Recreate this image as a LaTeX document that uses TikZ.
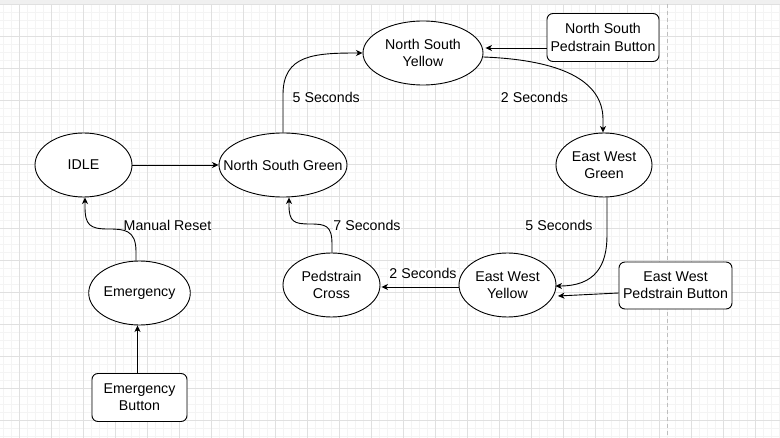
\documentclass[tikz,border=0pt]{standalone}
\usepackage{fontspec}
\setmainfont{Liberation Sans}
\usetikzlibrary{shapes.geometric,arrows.meta,calc}
\definecolor{minorgrid}{RGB}{244,244,244}
\definecolor{majorgrid}{RGB}{224,224,224}
\definecolor{pageline}{RGB}{190,190,190}
\definecolor{topband}{RGB}{240,240,240}
\tikzset{
  state/.style={draw, ellipse, line width=0.9pt, inner sep=0pt, align=center, fill=white},
  btn/.style={draw, rectangle, rounded corners=6pt, line width=0.9pt, inner sep=0pt, align=center, fill=white},
  conn/.style={line width=0.9pt, -{Stealth[length=6.5pt,width=6pt,inset=1.8pt]}},
  lbl/.style={fill=white, inner sep=0pt},
}
\begin{document}
\begin{tikzpicture}[x=1pt,y=-1pt,font=\fontsize{14.2}{17.3}\selectfont]
\useasboundingbox (0,0) rectangle (780,438);
\fill[white] (0,0) rectangle (780,438);
% grid
\foreach \i in {0,...,97} {\draw[minorgrid,line width=0.8pt] ({3.5+8*\i},4) -- ({3.5+8*\i},438);}
\foreach \j in {0,...,54} {\draw[minorgrid,line width=0.8pt] (0,{4.7+8*\j}) -- (780,{4.7+8*\j});}
\foreach \i in {0,...,24} {\draw[majorgrid,line width=0.8pt] ({19.5+32*\i},4) -- ({19.5+32*\i},438);}
\foreach \j in {0,...,13} {\draw[majorgrid,line width=0.8pt] (0,{4.7+32*\j}) -- (780,{4.7+32*\j});}
\fill[topband] (0,0) rectangle (780,4);
\draw[pageline,line width=0.8pt,dash pattern=on 4pt off 3pt] (667.3,4) -- (667.3,438);
% nodes
\node[state, minimum width=97pt, minimum height=64pt] (idle) at (83.5,165) {IDLE};
\node[state, minimum width=128pt, minimum height=64pt, inner xsep=-25pt] (nsg) at (283,165) {North South Green};
\node[state, minimum width=120pt, minimum height=64pt] (nsy) at (423,53) {North South\\Yellow};
\node[btn, minimum width=112pt, minimum height=48pt] (nspb) at (603,37.5) {North South\\Pedstrain Button};
\node[state, minimum width=96pt, minimum height=64pt] (ewg) at (604,165) {East West\\Green};
\node[state, minimum width=97pt, minimum height=64pt] (ewy) at (507.5,285) {East West\\Yellow};
\node[btn, minimum width=113pt, minimum height=47pt] (ewpb) at (675.5,285.5) {East West\\Pedstrain Button};
\node[state, minimum width=97pt, minimum height=64pt] (pc) at (331.5,285) {Pedstrain\\Cross};
\node[state, minimum width=97pt, minimum height=64pt] (em) at (139.5,293) {Emergency};
\node[btn, minimum width=95pt, minimum height=48pt] (emb) at (139.5,397.5) {Emergency\\Button};
% labels
\node[lbl, anchor=west] (l1) at (292.5,97) {5 Seconds};
\node[lbl] (l2) at (534.5,97) {2 Seconds};
\node[lbl] (l3) at (559,225) {5 Seconds};
\node[lbl] (l4) at (367,225) {7 Seconds};
\node[lbl] (l5) at (167.5,225) {Manual Reset};
\node[lbl] (l6) at (423,273) {2 Seconds};
% connectors
\draw[conn] (idle.east) -- (nsg.west);
\draw[conn] (nsg.north) -- ++(0,-38) .. controls ++(0,-40) and ($(nsy.west)+(-48,0)$) .. (nsy.west);
\draw[conn] ($(nsy.east)+(0,4)$) .. controls (560,60) and (603,80) .. ($(ewg.north)+(-1,-13)$) -- ($(ewg.north)+(-1,0)$);
\draw[conn] ($(nspb.west)+(0,10.5)$) -- ($(nsy.east)+(2,-5)$);
\draw[conn] ($(ewg.south)+(3,0)$) -- ++(0,38) .. controls ++(0,30) and ($(ewy.east)+(39,1)$) .. ($(ewy.east)+(-1,1)$);
\draw[conn] ($(ewpb.west)+(0,7.5)$) -- ($(ewy.east)+(1.5,11)$);
\draw[conn] ($(ewy.west)+(0,2)$) -- ($(pc.east)+(1,2)$);
\draw[conn] ($(pc.north)+(0.5,0)$) -- ++(0,-8) .. controls ++(0,-19) and (326,224) .. (310,224) .. controls (294,224) and (289,222) .. (289,205) -- (nsg.south -| 289,197);
\draw[conn] ($(em.north)+(-3.5,0)$) -- ++(0,-9) .. controls ++(0,-22) and (124,229) .. (108,229) .. controls (90,229) and (85,225) .. (85,207) -- (idle.south -| 85,197);
\draw[conn] ($(emb.north)+(-2,0)$) -- ($(em.south)+(-2,0)$);
\end{tikzpicture}
\end{document}
